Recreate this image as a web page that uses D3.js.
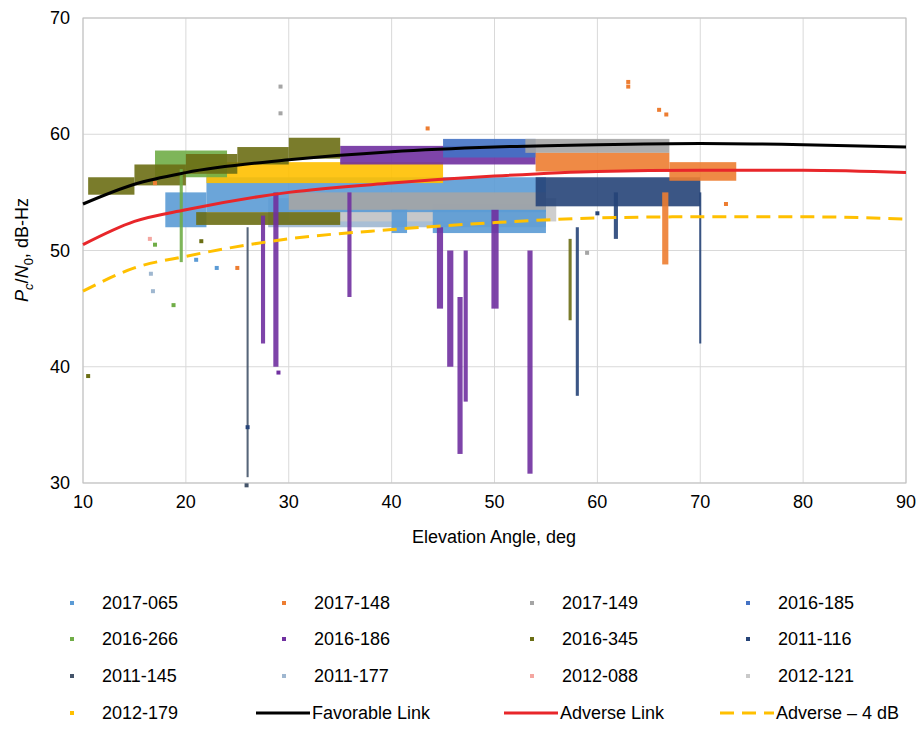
<!DOCTYPE html>
<html><head><meta charset="utf-8">
<script src="https://cdn.jsdelivr.net/npm/d3@7"></script>
<style>body{margin:0;background:#fff;font-family:Arial,"Liberation Sans",sans-serif}</style>
</head><body><svg id="c" width="921" height="730"></svg>
<script>
// reference curves
var curveX = [10, 15, 20, 30, 40, 50, 60, 70, 80, 90];
var favorable = [54.0, 55.7, 56.7, 57.8, 58.5, 58.9, 59.1, 59.2, 59.1, 58.9];
var adverse = [50.5, 52.5, 53.5, 55.0, 55.8, 56.4, 56.8, 56.9, 56.9, 56.7];
var adverse4 = [46.5, 48.5, 49.5, 51.0, 51.8, 52.4, 52.8, 52.9, 52.9, 52.7];

var xTicks = [10, 20, 30, 40, 50, 60, 70, 80, 90];
var yTicks = [30, 40, 50, 60, 70];

var seriesNames = ["2017-065","2017-148","2017-149","2016-185","2016-266","2016-186","2016-345","2011-116","2011-145","2011-177","2012-088","2012-121","2012-179"];
var seriesColors = ["#5b9bd5","#ed7d31","#a5a5a5","#4472c4","#70ad47","#7030a0","#6b6e14","#264478","#44546a","#9fb7d0","#f4a6a0","#c9c9c9","#ffc000"];

// dense bands: [series, x0, x1, yLow, yHigh]
var bands = [
  ["2011-177",28,55,52.0,54.5],["2012-121",30,56,52.5,54.5],
  ["2017-065",22,55,53.3,56.3],["2017-065",44,55,51.5,54],["2017-065",18,22,52,55],
  ["2017-149",30,55,53.5,55],["2011-116",54,70,53.8,56.3],["2016-345",21,35,52.2,53.3],
  ["2012-179",22,45,55.8,57.6],["2016-266",17,24,56.3,58.6],
  ["2016-186",35,54,57.4,59.0],["2016-185",45,54,58.0,59.6],
  ["2017-149",53,67,58.4,59.6],["2017-148",54,67,56.8,58.4],["2017-148",67,73.5,56.0,57.6],
  ["2016-345",10.5,15,54.8,56.3],["2016-345",15,20,55.6,57.4],["2016-345",20,25,56.6,58.3],
  ["2016-345",25,30,57.4,58.9],["2016-345",30,35,57.9,59.7],
  ["2016-186",28.5,29.0,40,55],["2016-186",27.3,27.7,42,53],["2016-186",35.7,36.1,46,55],
  ["2016-186",44.4,45.0,45,52],["2016-186",45.4,46.0,40,50],["2016-186",46.4,46.9,32.5,46],
  ["2016-186",47.0,47.4,37,50],["2016-186",49.7,50.4,45,53.5],["2016-186",53.2,53.7,30.8,50],
  ["2011-116",57.9,58.2,37.5,52],["2011-116",69.9,70.1,42,55],["2011-145",25.9,26.1,30.5,52],
  ["2017-148",66.3,66.9,48.8,55],["2016-345",57.2,57.5,44,51],["2016-266",19.4,19.7,49,57],
  ["2011-116",61.6,62.0,51,55],["2017-065",40,41.5,51.5,53.5]
];
// isolated points: [series, x, y]
var points = [
  ["2016-345",10.5,39.2],["2016-266",18.8,45.3],["2016-266",17,50.5],["2017-148",25,48.5],
  ["2017-148",43.5,60.5],["2017-148",63,64.5],["2017-148",63,64.1],["2017-148",66,62.1],["2017-148",66.7,61.7],
  ["2017-148",17,55.8],["2017-148",72.5,54],["2017-149",29.2,64.1],["2017-149",29.2,61.8],
  ["2011-177",16.8,46.5],["2011-177",16.6,48],["2012-088",16.5,51],["2011-145",25.9,29.8],
  ["2011-116",26,34.8],["2016-186",29,39.5],["2016-345",21.5,50.8],["2017-065",21,49.2],
  ["2017-065",23,48.5],["2011-116",60,53.2],["2017-149",59,49.8]
];

var svg = d3.select("#c");
var x = d3.scaleLinear().domain([10, 90]).range([83, 906]);
var y = d3.scaleLinear().domain([30, 70]).range([483, 18]);
var col = d3.scaleOrdinal().domain(seriesNames).range(seriesColors);

// grid
svg.append("g").selectAll("line.v").data(xTicks).join("line")
  .attr("x1", d => x(d)).attr("x2", d => x(d)).attr("y1", y(30)).attr("y2", y(70))
  .attr("stroke", "#d9d9d9");
svg.append("g").selectAll("line.h").data(yTicks).join("line")
  .attr("y1", d => y(d)).attr("y2", d => y(d)).attr("x1", x(10)).attr("x2", x(90))
  .attr("stroke", "#d9d9d9");
svg.append("rect").attr("x", x(10)).attr("y", y(70)).attr("width", x(90) - x(10))
  .attr("height", y(30) - y(70)).attr("fill", "none").attr("stroke", "#bfbfbf");

// data
svg.append("g").selectAll("rect").data(bands).join("rect")
  .attr("x", d => x(d[1])).attr("width", d => x(d[2]) - x(d[1]))
  .attr("y", d => y(d[4])).attr("height", d => y(d[3]) - y(d[4]))
  .attr("fill", d => col(d[0])).attr("opacity", 0.9);
svg.append("g").selectAll("rect").data(points).join("rect")
  .attr("x", d => x(d[1]) - 2).attr("y", d => y(d[2]) - 2).attr("width", 4).attr("height", 4)
  .attr("fill", d => col(d[0]));

function curve(vals, color, dash) {
  svg.append("path").datum(curveX.map((v, i) => [v, vals[i]]))
    .attr("d", d3.line().x(d => x(d[0])).y(d => y(d[1])).curve(d3.curveMonotoneX))
    .attr("fill", "none").attr("stroke", color).attr("stroke-width", 3)
    .attr("stroke-dasharray", dash);
}
curve(adverse4, "#ffc000", "14,8");
curve(adverse, "#e8262a", null);
curve(favorable, "#000", null);

// axes labels
svg.append("g").selectAll("text").data(xTicks).join("text")
  .attr("x", d => x(d)).attr("y", 508).attr("text-anchor", "middle")
  .attr("font-size", 18).text(d => d);
svg.append("g").selectAll("text").data(yTicks).join("text")
  .attr("x", 70).attr("y", d => y(d) + 6).attr("text-anchor", "end")
  .attr("font-size", 18).text(d => d);
svg.append("text").attr("x", 494).attr("y", 543).attr("text-anchor", "middle")
  .attr("font-size", 18).text("Elevation Angle, deg");
var yl = svg.append("text").attr("transform", "translate(28,250) rotate(-90)")
  .attr("text-anchor", "middle").attr("font-size", 18);
yl.append("tspan").attr("font-style", "italic").text("P");
yl.append("tspan").attr("font-style", "italic").attr("font-size", 13).attr("dy", 5).text("c");
yl.append("tspan").attr("dy", -5).text("/");
yl.append("tspan").attr("font-style", "italic").text("N");
yl.append("tspan").attr("font-size", 13).attr("dy", 5).text("0");
yl.append("tspan").attr("dy", -5).text(", dB-Hz");

// legend
var legendItems = seriesNames.map(n => ({name: n, type: "dot", color: col(n)}))
  .concat([{name: "Favorable Link", type: "line", color: "#000"},
           {name: "Adverse Link", type: "line", color: "#e8262a"},
           {name: "Adverse \u2013 4 dB", type: "dash", color: "#ffc000"}]);
var colX = [72, 284, 532, 748], rowY = [603, 639, 676, 713];
var lg = svg.append("g").selectAll("g").data(legendItems).join("g")
  .attr("transform", (d, i) => "translate(" + colX[i % 4] + "," + rowY[Math.floor(i / 4)] + ")");
lg.filter(d => d.type === "dot").append("rect").attr("x", -2).attr("y", -2)
  .attr("width", 4).attr("height", 4).attr("fill", d => d.color);
lg.filter(d => d.type !== "dot").append("line").attr("x1", -28).attr("x2", 26)
  .attr("stroke", d => d.color).attr("stroke-width", 3)
  .attr("stroke-dasharray", d => d.type === "dash" ? "14,8" : null);
lg.append("text").attr("x", d => d.type === "dot" ? 30 : 28).attr("y", 6)
  .attr("font-size", 18).text(d => d.name);
</script></body></html>
